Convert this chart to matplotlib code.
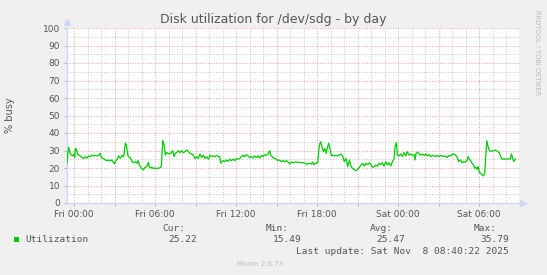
import matplotlib
matplotlib.use("Agg")
import matplotlib.pyplot as plt
from matplotlib.patches import Rectangle
from matplotlib.ticker import MultipleLocator, FuncFormatter

# hours since Fri 00:00, percent busy
hours = [
    -0.52, -0.45, -0.39, -0.29, -0.19, -0.10, 0.00, 0.05, 0.10, 0.17, 0.25, 0.35, 0.47, 0.59,
    0.72, 0.84, 0.96, 1.09, 1.21, 1.33, 1.46, 1.58, 1.70, 1.83, 1.95, 2.02, 2.12, 2.27, 2.39,
    2.52, 2.62, 2.77, 2.89, 3.01, 3.06, 3.19, 3.31, 3.43, 3.56, 3.68, 3.80, 3.88, 3.98, 4.05,
    4.17, 4.30, 4.42, 4.54, 4.67, 4.74, 4.84, 4.99,
    5.14, 5.26, 5.38, 5.51, 5.58, 5.68, 5.78, 5.88, 6.00, 6.12, 6.25, 6.37, 6.47, 6.57, 6.67,
    6.77, 6.86, 6.96, 7.06, 7.16, 7.31, 7.41, 7.51, 7.60, 7.73, 7.85, 7.98, 8.10, 8.22, 8.35,
    8.47, 8.59, 8.72, 8.84, 8.96, 9.09, 9.21, 9.33, 9.46, 9.58, 9.70, 9.83, 9.95, 10.07, 10.20,
    10.32, 10.44, 10.57, 10.69,
    10.79, 10.86, 10.96, 11.06, 11.16, 11.28, 11.41, 11.53, 11.65, 11.78, 11.90, 12.02, 12.15,
    12.27, 12.40, 12.52, 12.64, 12.77, 12.89, 13.01, 13.14, 13.26, 13.38, 13.51, 13.63, 13.75,
    13.88, 14.00, 14.12, 14.25, 14.37, 14.49, 14.57, 14.67, 14.77, 14.86, 14.99, 15.11, 15.23,
    15.36, 15.48, 15.60, 15.73, 15.85, 15.98, 16.10, 16.22, 16.35, 16.59,
    16.69, 16.94, 17.14, 17.23, 17.38, 17.56, 17.68, 17.75, 17.88, 18.05, 18.17, 18.27, 18.37,
    18.47, 18.57, 18.67, 18.79, 18.86, 18.96, 19.06, 19.16, 19.28, 19.41, 19.53, 19.65, 19.78,
    19.90, 20.02, 20.15, 20.27, 20.40, 20.52, 20.64, 20.77, 20.89, 21.01, 21.14, 21.26, 21.38,
    21.51, 21.63, 21.75, 21.88, 22.00, 22.12, 22.25,
    22.35, 22.47, 22.59, 22.72, 22.84, 22.96, 23.09, 23.21, 23.33, 23.46, 23.58, 23.70, 23.78,
    23.88, 23.95, 24.07, 24.20, 24.32, 24.44, 24.57, 24.69, 24.81, 24.94, 25.06, 25.19, 25.26,
    25.33, 25.43, 25.56, 25.68, 25.80, 25.93, 26.05, 26.17, 26.30, 26.42, 26.54, 26.67, 26.79,
    26.91, 27.04, 27.16, 27.28, 27.41, 27.53, 27.65, 27.78, 27.90, 28.02,
    28.12, 28.25, 28.37, 28.49, 28.62, 28.74, 28.86, 28.99, 29.11, 29.19, 29.28, 29.38, 29.48,
    29.60, 29.68, 29.78, 29.85, 29.93, 30.02, 30.12, 30.22, 30.32, 30.42, 30.57, 30.67, 30.77,
    30.91, 31.06, 31.21, 31.36, 31.51, 31.60, 31.70, 31.83, 31.95, 32.07, 32.20, 32.32, 32.40,
    32.49, 32.59, 32.69,
]
busy = [
    22.7, 29.0, 31.8, 28.4, 27.4, 26.9, 28.0, 26.0, 31.2, 30.7, 28.0, 27.4, 26.9, 26.0,
    25.5, 26.5, 25.7, 26.9, 26.5, 27.4, 26.9, 27.2, 26.9, 27.2, 28.4, 26.0, 25.5, 25.0, 24.2,
    24.6, 24.0, 24.6, 23.6, 22.3, 23.6, 25.0, 26.9, 25.5, 27.2, 26.5, 34.1, 33.1, 27.4, 26.5,
    25.7, 23.6, 23.0, 23.6, 22.7, 24.2, 21.7, 19.8,
    18.9, 20.4, 20.8, 23.2, 20.8, 20.0, 20.4, 19.6, 20.0, 19.6, 20.0, 20.0, 21.1, 35.79, 33.1,
    27.4, 28.8, 28.4, 28.0, 28.4, 29.9, 26.5, 28.4, 28.8, 29.9, 28.8, 29.9, 28.8, 29.3, 30.3,
    29.3, 28.4, 28.0, 27.4, 25.5, 26.5, 25.5, 28.0, 26.0, 27.4, 25.5, 26.5, 25.0, 27.4, 26.5,
    26.9, 26.5, 27.2, 26.5,
    26.5, 22.7, 23.6, 24.2, 23.6, 24.6, 23.8, 25.0, 24.2, 25.0, 24.2, 25.3, 25.0,
    25.5, 26.5, 27.2, 26.5, 27.6, 26.9, 26.0, 26.5, 25.7, 26.9, 26.0, 26.9, 25.7,
    27.2, 26.5, 27.6, 27.2, 28.0, 29.9, 27.4, 26.5, 25.7, 25.5, 25.0, 24.2, 24.6,
    23.6, 24.2, 23.6, 24.2, 23.4, 22.3, 23.4, 23.0, 23.4, 23.4,
    23.2, 23.0, 22.7, 21.9, 22.7, 22.3, 23.4, 21.9, 22.7, 23.0, 33.1, 35.0, 32.2,
    29.3, 31.2, 28.4, 32.2, 34.1, 31.2, 26.9, 27.4, 26.9, 27.2, 26.9, 27.4, 28.0,
    26.9, 23.6, 25.5, 20.8, 24.6, 20.8, 19.8, 18.9, 18.5, 19.2, 20.4, 21.7, 22.7,
    21.1, 22.7, 21.9, 23.0, 21.9, 20.4, 20.8,
    21.7, 21.1, 22.7, 21.9, 23.0, 21.1, 23.6, 21.7, 23.0, 21.1, 23.6, 25.0, 32.2,
    34.5, 27.4, 26.9, 28.0, 26.5, 28.8, 26.9, 29.3, 27.4, 28.0, 27.2, 27.6, 24.6,
    28.4, 29.1, 28.0, 27.4, 28.0, 27.2, 28.0, 26.9, 27.6, 26.5, 27.2, 26.9, 26.5,
    27.2, 26.5, 27.2, 26.9, 26.5, 26.9, 26.0, 27.2, 26.9, 28.0,
    28.0, 27.4, 26.5, 23.6, 24.6, 23.0, 23.6, 23.4, 24.2, 26.5, 25.0, 24.2, 22.7,
    21.7, 19.8, 20.4, 19.2, 20.8, 17.3, 17.0, 16.2, 15.49, 17.0, 35.6, 32.2, 29.9,
    29.5, 29.9, 30.3, 29.5, 28.8, 26.5, 25.0, 25.3, 25.0, 25.3, 25.0, 25.3, 28.0,
    25.5, 23.6, 25.22,
]

title = "Disk utilization for /dev/sdg - by day"
stat_names = ["Cur:", "Min:", "Avg:", "Max:"]
stat_values = ["25.22", "15.49", "25.47", "35.79"]
last_update = "Last update: Sat Nov  8 08:40:22 2025"

W, H = 547, 275
FONT = "#555555"
AXIS = "#CFD6F8"
LINE = "#00CC00"


def px(x, y):
    return x / W, 1 - y / H


def tick_label(v, pos):
    if v % 6 != 0:
        return ""
    day = "Fri" if v < 24 else "Sat"
    return f"{day} {int(v % 24):02d}:00"


fig = plt.figure(figsize=(W / 100, H / 100), dpi=100, facecolor="#F0F0F0")
left, top = px(67, 28)
right, bottom = px(519, 203)
ax = fig.add_axes([left, bottom, right - left, top - bottom], facecolor="white")

ax.set_xlim(-0.52, 32.96)
ax.set_ylim(0, 100)

ax.xaxis.set_major_locator(MultipleLocator(3))
ax.xaxis.set_minor_locator(MultipleLocator(1))
ax.xaxis.set_major_formatter(FuncFormatter(tick_label))
ax.yaxis.set_major_locator(MultipleLocator(10))
ax.yaxis.set_minor_locator(MultipleLocator(5))

# Grid like rrdtool: gray minor, red major, dotted
ax.grid(which="minor", color="#B0B0B0", alpha=0.65, linestyle=(0, (1, 1.5)), linewidth=0.75, zorder=0)
ax.grid(which="major", color="#D88080", alpha=0.65, linestyle=(0, (1, 1.5)), linewidth=0.75, zorder=0)

ax.tick_params(which="major", length=2, width=0.6, color="#AAAAAA", labelsize=6.5,
               labelcolor=FONT, pad=3)
ax.tick_params(which="minor", length=0)

for side in ["top", "right"]:
    ax.spines[side].set_visible(False)
for side in ["left", "bottom"]:
    ax.spines[side].set_color(AXIS)
    ax.spines[side].set_linewidth(1.0)

# axis arrows
ax.plot([0], [1.035], marker="^", markersize=4, color=AXIS, transform=ax.transAxes, clip_on=False)
ax.plot([1.008], [0], marker=">", markersize=4, color=AXIS, transform=ax.transAxes, clip_on=False)

ax.plot(hours, busy, color=LINE, linewidth=0.9, zorder=3)

ax.set_ylabel("% busy", fontsize=7, color=FONT)
ax.yaxis.set_label_coords(-0.115, 0.5)

fig.text(*px(273.5, 19), title, fontsize=9, color=FONT, ha="center", va="center")
fig.text(*px(537.5, 53), "RRDTOOL / TOBI OETIKER", fontsize=4.8, color="#BBBBBB",
         rotation=270, ha="center", va="center")

# legend block
mono = dict(family="DejaVu Sans Mono", fontsize=6.8, color=FONT, va="center")
fig.patches.append(Rectangle(px(13.5, 242), 5.5 / W, 5.5 / H, transform=fig.transFigure,
                             facecolor=LINE, edgecolor="none"))
fig.text(*px(25, 239.5), "Utilization", ha="left", **mono)
head_x = [185, 289, 393, 497]
val_x = [197, 302, 405, 509]
for name, value, hx, vx in zip(stat_names, stat_values, head_x, val_x):
    fig.text(*px(hx, 228.5), name, ha="right", **mono)
    fig.text(*px(vx, 239.5), value, ha="right", **mono)
fig.text(*px(509, 251), last_update, ha="right", **mono)
fig.text(*px(260.5, 264), "Munin 2.0.73", fontsize=5, color="#BBBBBB", ha="center", va="center")

fig.savefig("out.png", dpi=100, facecolor=fig.get_facecolor())
